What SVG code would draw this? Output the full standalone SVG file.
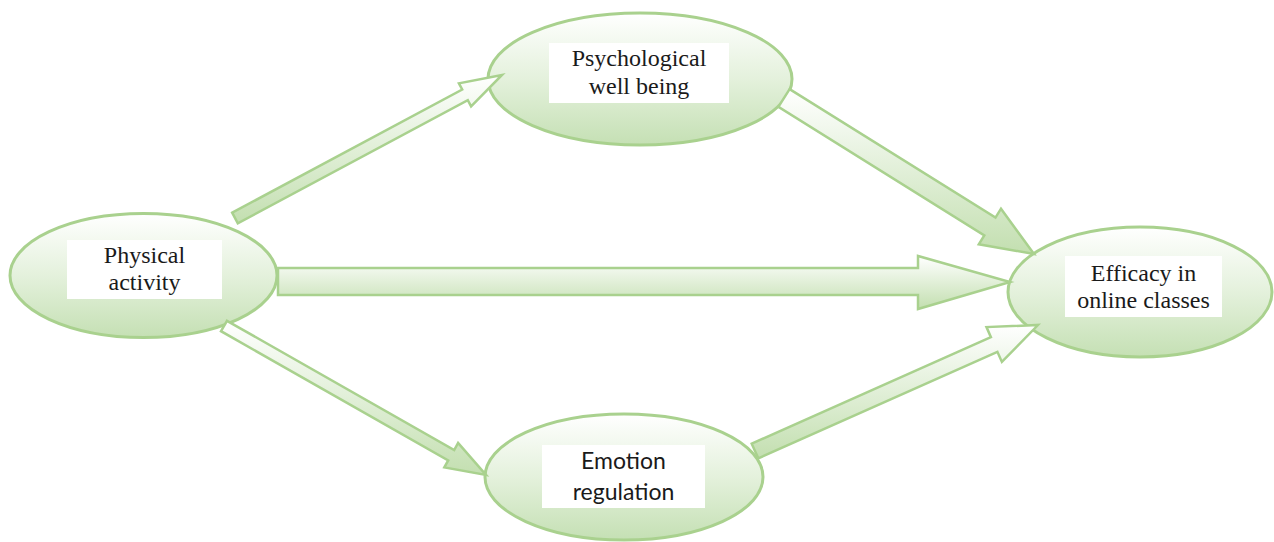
<svg xmlns="http://www.w3.org/2000/svg" width="1274" height="542" viewBox="0 0 1274 542">
<defs>
<linearGradient id="gEll" x1="0" y1="0" x2="0" y2="1">
<stop offset="0" stop-color="#ffffff"/>
<stop offset="0.5" stop-color="#e4f1dc"/>
<stop offset="1" stop-color="#c5e0b4"/>
</linearGradient>
<linearGradient id="gArr" x1="0" y1="0" x2="0" y2="1">
<stop offset="0" stop-color="#ffffff"/>
<stop offset="1" stop-color="#c3dfb0"/>
</linearGradient>
</defs>
<style>
.node ellipse{fill:url(#gEll);stroke:#a9d18e;stroke-width:3}
.box{fill:#ffffff}
.serif{font-family:"Liberation Serif","Times New Roman",serif;font-size:24px;fill:#1a1a1a;text-anchor:middle}
.sans{font-family:Lato,"Liberation Sans",sans-serif;font-size:23px;fill:#1a1a1a;text-anchor:middle}
.arr polygon{fill:url(#gArr);stroke:#a9d18e;stroke-width:2.5;stroke-linejoin:miter}
</style>
<rect width="1274" height="542" fill="#ffffff"/>
<g id="node-physical" class="node">
<ellipse cx="143.5" cy="275.5" rx="133.5" ry="62"/>
<rect class="box" x="67" y="240" width="155" height="59"/>
<text class="serif" x="144.5" y="263">Physical</text>
<text class="serif" x="144.5" y="290">activity</text>
</g>
<g id="node-psych" class="node">
<ellipse cx="640" cy="79" rx="152" ry="66"/>
<rect class="box" x="549" y="43" width="180" height="60"/>
<text class="serif" x="639" y="66">Psychological</text>
<text class="serif" x="639" y="94">well being</text>
</g>
<g id="node-emotion" class="node">
<ellipse cx="624" cy="477" rx="139" ry="63"/>
<rect class="box" x="542" y="445" width="163" height="63"/>
<text class="sans" x="623.5" y="469">Emotion</text>
<text class="sans" x="623.5" y="500">regulation</text>
</g>
<g id="node-efficacy" class="node">
<ellipse cx="1140" cy="292" rx="132" ry="65"/>
<rect class="box" x="1065" y="256" width="157" height="61"/>
<text class="serif" x="1143.5" y="281">Efficacy in</text>
<text class="serif" x="1143.5" y="308">online classes</text>
</g>
<g id="connectors" class="arr">
<polygon points="232.2,212.7 462.2,89.5 458.9,83.3 502,75 471.1,106.3 467.8,100.1 237.8,223.3"/>
<polygon points="789.6,89.1 995.5,217.6 1001,208.7 1034,254 978.8,244.3 984.3,235.4 778.4,106.9"/>
<polygon points="278,268 918,268 918,256 1010,282 918,309 918,295 278,295"/>
<polygon points="227,320.8 454.2,450 458.1,443 486,475 444.3,467.4 448.2,460.4 221,331.2"/>
<polygon points="751.7,443.7 990.9,337.2 986.5,327.1 1038,325 1001.9,361.9 997.4,351.8 758.3,458.3"/>
</g>
</svg>
